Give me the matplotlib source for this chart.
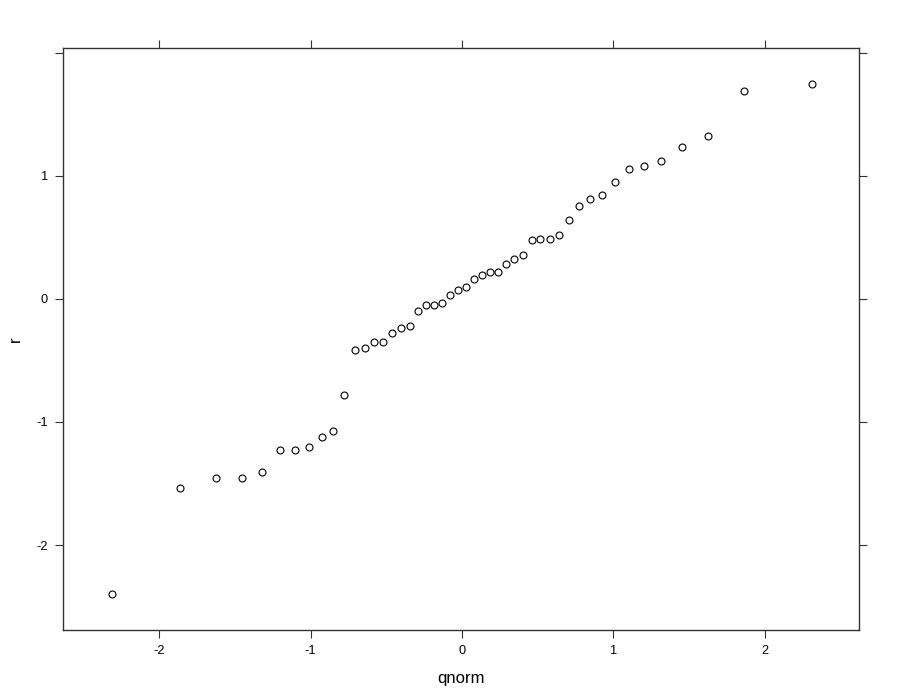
import matplotlib
matplotlib.use("Agg")
import matplotlib.pyplot as plt

# theoretical normal quantiles (ppoints(48)) and sample values
qnorm = [
    -2.311, -1.863, -1.625, -1.455, -1.318, -1.203, -1.101, -1.010,
    -0.926, -0.849, -0.776, -0.707, -0.642, -0.579, -0.518, -0.460,
    -0.402, -0.346, -0.291, -0.237, -0.184, -0.131, -0.078, -0.026,
    0.026, 0.078, 0.131, 0.184, 0.237, 0.291, 0.346, 0.402,
    0.460, 0.518, 0.579, 0.642, 0.707, 0.776, 0.849, 0.926,
    1.010, 1.101, 1.203, 1.318, 1.455, 1.625, 1.863, 2.311,
]
r = [
    -2.401, -1.539, -1.455, -1.455, -1.404, -1.228, -1.228, -1.203,
    -1.120, -1.073, -0.778, -0.412, -0.398, -0.352, -0.352, -0.274,
    -0.238, -0.222, -0.098, -0.046, -0.046, -0.033, 0.035, 0.076,
    0.098, 0.160, 0.195, 0.217, 0.222, 0.282, 0.325, 0.355,
    0.480, 0.485, 0.490, 0.523, 0.642, 0.756, 0.810, 0.848,
    0.951, 1.059, 1.081, 1.124, 1.236, 1.325, 1.693, 1.748,
]
x_ticks = [-2, -1, 0, 1, 2]
y_ticks = [-2, -1, 0, 1, 2]
y_tick_labels = ["-2", "-1", "0", "1", ""]

plt.rcParams["font.family"] = ["Liberation Sans", "DejaVu Sans"]

fig = plt.figure(figsize=(9, 7), dpi=100)
ax = fig.add_axes([0.07, 0.1, 0.8848, 0.831])

ax.plot(qnorm, r, linestyle="none", marker="o", markersize=5.0,
        markerfacecolor="none", markeredgecolor="black", markeredgewidth=0.8)

ax.set_xlim(-2.635, 2.625)
ax.set_ylim(-2.691, 2.038)

ax.set_xticks(x_ticks)
ax.set_xticklabels([str(t) for t in x_ticks])
ax.set_yticks(y_ticks)
ax.set_yticklabels(y_tick_labels)

ax.tick_params(direction="out", length=5.8, width=0.8, color="#333333",
               labelsize=9.2, pad=5, top=True, right=True,
               labeltop=False, labelright=False)
for side in ax.spines.values():
    side.set_color("#333333")
    side.set_linewidth(1.0)

ax.set_xlabel("qnorm", fontsize=12, labelpad=10)
ax.set_ylabel("r", fontsize=12, labelpad=10)

fig.savefig("out.png", dpi=100)
